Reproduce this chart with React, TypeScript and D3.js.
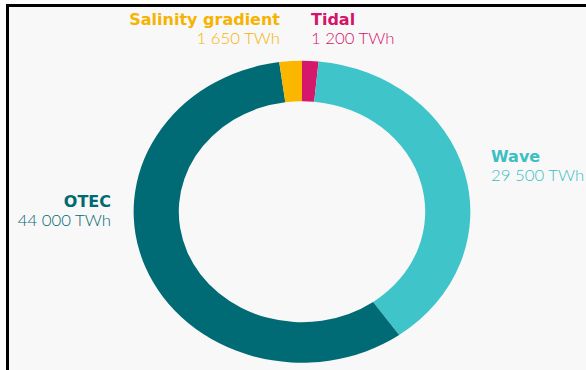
import React from "react";
import * as d3 from "d3";

const categories = ["Tidal", "Wave", "OTEC", "Salinity gradient"];
const values = [1200, 29500, 44000, 1650];
const valueLabels = ["1 200 TWh", "29 500 TWh", "44 000 TWh", "1 650 TWh"];
const colors = ["#d6186c", "#3fc4c9", "#016b75", "#fbb700"];
const textColors = ["#d4146a", "#3bbfc4", "#006a72", "#f6b300"];

const W = 586;
const H = 370;
const cx = 302;
const cy = 211.7;
const sx = 1.115;
const rOuter = 151;
const rInner = 110.5;

// label anchors: [x, nameBaseline, anchor]
const labelPos: [number, number, "start" | "end"][] = [
  [311, 25, "start"],
  [491, 162, "start"],
  [111, 207, "end"],
  [280, 25, "end"],
];

export default function App() {
  const pie = d3
    .pie<number>()
    .sort(null)
    .startAngle(0)
    .endAngle(2 * Math.PI);
  const arcs = pie(values);
  const arc = d3.arc<d3.PieArcDatum<number>>().innerRadius(rInner).outerRadius(rOuter);

  return (
    <svg
      width={W}
      height={H}
      style={{ position: "fixed", left: 0, top: 0, display: "block", background: "#ffffff" }}
    >
      <rect x={7.5} y={5.5} width={W + 10} height={H + 10} fill="#f8f8f8" stroke="#000" strokeWidth={3} />
      <g transform={`translate(${cx},${cy}) scale(${sx},1)`}>
        {arcs.map((a, i) => (
          <path key={categories[i]} d={arc(a) || ""} fill={colors[i]} />
        ))}
      </g>
      {categories.map((c, i) => {
        const [x, y, anchor] = labelPos[i];
        return (
          <g key={c} textAnchor={anchor}>
            <text
              x={x}
              y={y}
              fill={textColors[i]}
              fontSize={16}
              fontWeight={700}
              fontFamily="'DejaVu Sans', sans-serif"
            >
              {c}
            </text>
            <text
              x={x}
              y={y + 19.5}
              fill={textColors[i]}
              fontSize={16}
              fontWeight={300}
              fontFamily="Lato, 'Open Sans', sans-serif"
              transform={`translate(${x},0) scale(1.05,1) translate(${-x},0)`}
            >
              {valueLabels[i]}
            </text>
          </g>
        );
      })}
    </svg>
  );
}
